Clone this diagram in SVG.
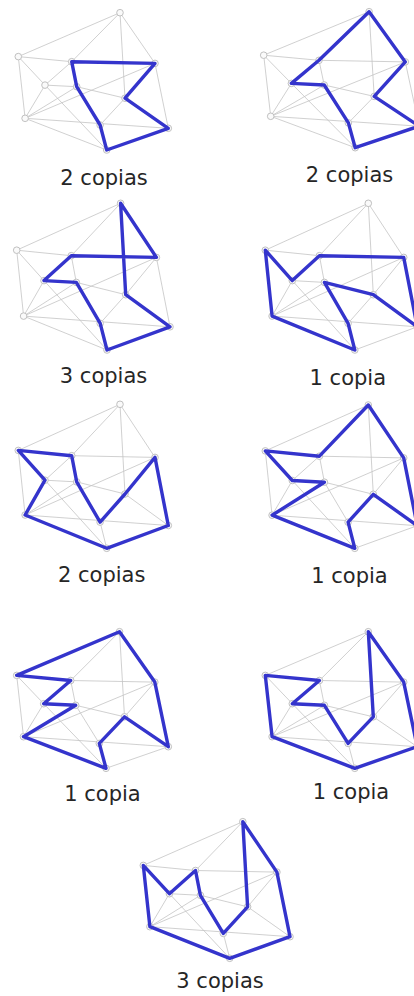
<svg xmlns="http://www.w3.org/2000/svg" width="414" height="996" viewBox="0 0 414 996">
<style>
.e{fill:none;stroke:#c4c4c4;stroke-width:0.8;stroke-linejoin:round}
.n{fill:#fafafa;stroke:#c0c0c0;stroke-width:1}
.c{fill:none;stroke:#3434cc;stroke-width:3.4;stroke-linejoin:round}
.t{font-family:"DejaVu Sans","Liberation Sans",sans-serif;font-size:21px;fill:#262626;text-anchor:middle}
</style>
<rect width="414" height="996" fill="#ffffff"/>

<g id="panel1">
<g class="connectors"><path class="e" d="M18.3 56.6L120 12.7 71.7 61.7 18.3 56.6 45 85.1 25.1 118.3 18.3 56.6M120 12.7L155 63.4 71.7 61.7 45 85.1 76.7 86.7 71.7 61.7M120 12.7L125 98.2 155 63.4 168.3 128.3 125 98.2 100.1 125 106.7 150 168.3 128.3 25.1 118.3 106.7 150 45 85.1M155 63.4L25.1 118.3 76.7 86.7 125 98.2M76.7 86.7L100.1 125"/></g>
<g class="nodes"><circle id="p1A" class="n" cx="120" cy="12.7" r="3.3"/><circle id="p1B" class="n" cx="18.3" cy="56.6" r="3.3"/><circle id="p1C" class="n" cx="71.7" cy="61.7" r="3.3"/><circle id="p1D" class="n" cx="155" cy="63.4" r="3.3"/><circle id="p1E" class="n" cx="45" cy="85.1" r="3.3"/><circle id="p1K" class="n" cx="76.7" cy="86.7" r="3.3"/><circle id="p1F" class="n" cx="125" cy="98.2" r="3.3"/><circle id="p1G" class="n" cx="25.1" cy="118.3" r="3.3"/><circle id="p1H" class="n" cx="100.1" cy="125" r="3.3"/><circle id="p1I" class="n" cx="168.3" cy="128.3" r="3.3"/><circle id="p1J" class="n" cx="106.7" cy="150" r="3.3"/></g>
<polygon class="c" points="71.7,61.7 155,63.4 125,98.2 168.3,128.3 106.7,150 100.1,125 76.7,86.7"/>
<text class="t" x="104" y="185">2 copias</text>
</g>

<g id="panel2">
<g class="connectors"><path class="e" d="M263.7 55.2L369.1 11.7 319 60.3 263.7 55.2 291.4 83.4 270.7 116.3 263.7 55.2M369.1 11.7L405.3 61.9 319 60.3 291.4 83.4 324.2 85 319 60.3M369.1 11.7L374.2 96.4 405.3 61.9 419.1 126.2 374.2 96.4 348.4 122.9 355.2 147.7 419.1 126.2 270.7 116.3 355.2 147.7 291.4 83.4M405.3 61.9L270.7 116.3 324.2 85 374.2 96.4M324.2 85L348.4 122.9"/></g>
<g class="nodes"><circle id="p2A" class="n" cx="369.1" cy="11.7" r="3.3"/><circle id="p2B" class="n" cx="263.7" cy="55.2" r="3.3"/><circle id="p2C" class="n" cx="319" cy="60.3" r="3.3"/><circle id="p2D" class="n" cx="405.3" cy="61.9" r="3.3"/><circle id="p2E" class="n" cx="291.4" cy="83.4" r="3.3"/><circle id="p2K" class="n" cx="324.2" cy="85" r="3.3"/><circle id="p2F" class="n" cx="374.2" cy="96.4" r="3.3"/><circle id="p2G" class="n" cx="270.7" cy="116.3" r="3.3"/><circle id="p2H" class="n" cx="348.4" cy="122.9" r="3.3"/><circle id="p2I" class="n" cx="419.1" cy="126.2" r="3.3"/><circle id="p2J" class="n" cx="355.2" cy="147.7" r="3.3"/></g>
<polygon class="c" points="369.1,11.7 319,60.3 291.4,83.4 324.2,85 348.4,122.9 355.2,147.7 419.1,126.2 374.2,96.4 405.3,61.9"/>
<text class="t" x="349.5" y="181.7">2 copias</text>
</g>

<g id="panel3">
<g class="connectors"><path class="e" d="M16.7 250.2L120.6 203.3 71.3 255.7 16.7 250.2 44 280.6 23.6 316.1 16.7 250.2M120.6 203.3L156.4 257.4 71.3 255.7 44 280.6 76.3 282.4 71.3 255.7M120.6 203.3L125.7 294.7 156.4 257.4 170 326.8 125.7 294.7 100.2 323.3 107 350 170 326.8 23.6 316.1 107 350 44 280.6M156.4 257.4L23.6 316.1 76.3 282.4 125.7 294.7M76.3 282.4L100.2 323.3"/></g>
<g class="nodes"><circle id="p3A" class="n" cx="120.6" cy="203.3" r="3.3"/><circle id="p3B" class="n" cx="16.7" cy="250.2" r="3.3"/><circle id="p3C" class="n" cx="71.3" cy="255.7" r="3.3"/><circle id="p3D" class="n" cx="156.4" cy="257.4" r="3.3"/><circle id="p3E" class="n" cx="44" cy="280.6" r="3.3"/><circle id="p3K" class="n" cx="76.3" cy="282.4" r="3.3"/><circle id="p3F" class="n" cx="125.7" cy="294.7" r="3.3"/><circle id="p3G" class="n" cx="23.6" cy="316.1" r="3.3"/><circle id="p3H" class="n" cx="100.2" cy="323.3" r="3.3"/><circle id="p3I" class="n" cx="170" cy="326.8" r="3.3"/><circle id="p3J" class="n" cx="107" cy="350" r="3.3"/></g>
<polygon class="c" points="120.6,203.3 156.4,257.4 71.3,255.7 44,280.6 76.3,282.4 100.2,323.3 107,350 170,326.8 125.7,294.7"/>
<text class="t" x="103.5" y="383.3">3 copias</text>
</g>

<g id="panel4">
<g class="connectors"><path class="e" d="M265.3 250.2L368.3 203.3 319.4 255.7 265.3 250.2 292.3 280.6 272.1 316.1 265.3 250.2M368.3 203.3L403.7 257.4 319.4 255.7 292.3 280.6 324.4 282.4 319.4 255.7M368.3 203.3L373.3 294.7 403.7 257.4 417.2 326.8 373.3 294.7 348.1 323.3 354.8 350 417.2 326.8 272.1 316.1 354.8 350 292.3 280.6M403.7 257.4L272.1 316.1 324.4 282.4 373.3 294.7M324.4 282.4L348.1 323.3"/></g>
<g class="nodes"><circle id="p4A" class="n" cx="368.3" cy="203.3" r="3.3"/><circle id="p4B" class="n" cx="265.3" cy="250.2" r="3.3"/><circle id="p4C" class="n" cx="319.4" cy="255.7" r="3.3"/><circle id="p4D" class="n" cx="403.7" cy="257.4" r="3.3"/><circle id="p4E" class="n" cx="292.3" cy="280.6" r="3.3"/><circle id="p4K" class="n" cx="324.4" cy="282.4" r="3.3"/><circle id="p4F" class="n" cx="373.3" cy="294.7" r="3.3"/><circle id="p4G" class="n" cx="272.1" cy="316.1" r="3.3"/><circle id="p4H" class="n" cx="348.1" cy="323.3" r="3.3"/><circle id="p4I" class="n" cx="417.2" cy="326.8" r="3.3"/><circle id="p4J" class="n" cx="354.8" cy="350" r="3.3"/></g>
<polygon class="c" points="265.3,250.2 292.3,280.6 319.4,255.7 403.7,257.4 417.2,326.8 373.3,294.7 324.4,282.4 348.1,323.3 354.8,350 272.1,316.1"/>
<text class="t" x="347.8" y="385">1 copia</text>
</g>

<g id="panel5">
<g class="connectors"><path class="e" d="M18.3 450.4L120 404.3 71.7 455.7 18.3 450.4 45 480.2 25.1 515 18.3 450.4M120 404.3L155 457.4 71.7 455.7 45 480.2 76.7 481.9 71.7 455.7M120 404.3L125 494 155 457.4 168.3 525.5 125 494 100.1 522.1 106.7 548.3 168.3 525.5 25.1 515 106.7 548.3 45 480.2M155 457.4L25.1 515 76.7 481.9 125 494M76.7 481.9L100.1 522.1"/></g>
<g class="nodes"><circle id="p5A" class="n" cx="120" cy="404.3" r="3.3"/><circle id="p5B" class="n" cx="18.3" cy="450.4" r="3.3"/><circle id="p5C" class="n" cx="71.7" cy="455.7" r="3.3"/><circle id="p5D" class="n" cx="155" cy="457.4" r="3.3"/><circle id="p5E" class="n" cx="45" cy="480.2" r="3.3"/><circle id="p5K" class="n" cx="76.7" cy="481.9" r="3.3"/><circle id="p5F" class="n" cx="125" cy="494" r="3.3"/><circle id="p5G" class="n" cx="25.1" cy="515" r="3.3"/><circle id="p5H" class="n" cx="100.1" cy="522.1" r="3.3"/><circle id="p5I" class="n" cx="168.3" cy="525.5" r="3.3"/><circle id="p5J" class="n" cx="106.7" cy="548.3" r="3.3"/></g>
<polygon class="c" points="18.3,450.4 71.7,455.7 76.7,481.9 100.1,522.1 125,494 155,457.4 168.3,525.5 106.7,548.3 25.1,515 45,480.2"/>
<text class="t" x="101.7" y="581.7">2 copias</text>
</g>

<g id="panel6">
<g class="connectors"><path class="e" d="M265.3 450.9L368.3 405 319.4 456.2 265.3 450.9 292.3 480.5 272.1 515.2 265.3 450.9M368.3 405L403.7 457.9 319.4 456.2 292.3 480.5 324.4 482.2 319.4 456.2M368.3 405L373.3 494.3 403.7 457.9 417.2 525.7 373.3 494.3 348.1 522.2 354.8 548.3 417.2 525.7 272.1 515.2 354.8 548.3 292.3 480.5M403.7 457.9L272.1 515.2 324.4 482.2 373.3 494.3M324.4 482.2L348.1 522.2"/></g>
<g class="nodes"><circle id="p6A" class="n" cx="368.3" cy="405" r="3.3"/><circle id="p6B" class="n" cx="265.3" cy="450.9" r="3.3"/><circle id="p6C" class="n" cx="319.4" cy="456.2" r="3.3"/><circle id="p6D" class="n" cx="403.7" cy="457.9" r="3.3"/><circle id="p6E" class="n" cx="292.3" cy="480.5" r="3.3"/><circle id="p6K" class="n" cx="324.4" cy="482.2" r="3.3"/><circle id="p6F" class="n" cx="373.3" cy="494.3" r="3.3"/><circle id="p6G" class="n" cx="272.1" cy="515.2" r="3.3"/><circle id="p6H" class="n" cx="348.1" cy="522.2" r="3.3"/><circle id="p6I" class="n" cx="417.2" cy="525.7" r="3.3"/><circle id="p6J" class="n" cx="354.8" cy="548.3" r="3.3"/></g>
<polygon class="c" points="368.3,405 319.4,456.2 265.3,450.9 292.3,480.5 324.4,482.2 272.1,515.2 354.8,548.3 348.1,522.2 373.3,494.3 417.2,525.7 403.7,457.9"/>
<text class="t" x="349.5" y="583.3">1 copia</text>
</g>

<g id="panel7">
<g class="connectors"><path class="e" d="M16.7 675.4L119.5 631.7 70.7 680.5 16.7 675.4 43.7 703.7 23.5 736.7 16.7 675.4M119.5 631.7L154.8 682.1 70.7 680.5 43.7 703.7 75.7 705.3 70.7 680.5M119.5 631.7L124.5 716.8 154.8 682.1 168.3 746.7 124.5 716.8 99.3 743.4 106 768.3 168.3 746.7 23.5 736.7 106 768.3 43.7 703.7M154.8 682.1L23.5 736.7 75.7 705.3 124.5 716.8M75.7 705.3L99.3 743.4"/></g>
<g class="nodes"><circle id="p7A" class="n" cx="119.5" cy="631.7" r="3.3"/><circle id="p7B" class="n" cx="16.7" cy="675.4" r="3.3"/><circle id="p7C" class="n" cx="70.7" cy="680.5" r="3.3"/><circle id="p7D" class="n" cx="154.8" cy="682.1" r="3.3"/><circle id="p7E" class="n" cx="43.7" cy="703.7" r="3.3"/><circle id="p7K" class="n" cx="75.7" cy="705.3" r="3.3"/><circle id="p7F" class="n" cx="124.5" cy="716.8" r="3.3"/><circle id="p7G" class="n" cx="23.5" cy="736.7" r="3.3"/><circle id="p7H" class="n" cx="99.3" cy="743.4" r="3.3"/><circle id="p7I" class="n" cx="168.3" cy="746.7" r="3.3"/><circle id="p7J" class="n" cx="106" cy="768.3" r="3.3"/></g>
<polygon class="c" points="119.5,631.7 16.7,675.4 70.7,680.5 43.7,703.7 75.7,705.3 23.5,736.7 106,768.3 99.3,743.4 124.5,716.8 168.3,746.7 154.8,682.1"/>
<text class="t" x="102.5" y="801">1 copia</text>
</g>

<g id="panel8">
<g class="connectors"><path class="e" d="M265.3 675.4L368.3 631.7 319.4 680.5 265.3 675.4 292.3 703.7 272.1 736.7 265.3 675.4M368.3 631.7L403.7 682.1 319.4 680.5 292.3 703.7 324.4 705.3 319.4 680.5M368.3 631.7L373.3 716.8 403.7 682.1 417.2 746.7 373.3 716.8 348.1 743.4 354.8 768.3 417.2 746.7 272.1 736.7 354.8 768.3 292.3 703.7M403.7 682.1L272.1 736.7 324.4 705.3 373.3 716.8M324.4 705.3L348.1 743.4"/></g>
<g class="nodes"><circle id="p8A" class="n" cx="368.3" cy="631.7" r="3.3"/><circle id="p8B" class="n" cx="265.3" cy="675.4" r="3.3"/><circle id="p8C" class="n" cx="319.4" cy="680.5" r="3.3"/><circle id="p8D" class="n" cx="403.7" cy="682.1" r="3.3"/><circle id="p8E" class="n" cx="292.3" cy="703.7" r="3.3"/><circle id="p8K" class="n" cx="324.4" cy="705.3" r="3.3"/><circle id="p8F" class="n" cx="373.3" cy="716.8" r="3.3"/><circle id="p8G" class="n" cx="272.1" cy="736.7" r="3.3"/><circle id="p8H" class="n" cx="348.1" cy="743.4" r="3.3"/><circle id="p8I" class="n" cx="417.2" cy="746.7" r="3.3"/><circle id="p8J" class="n" cx="354.8" cy="768.3" r="3.3"/></g>
<polygon class="c" points="368.3,631.7 373.3,716.8 348.1,743.4 324.4,705.3 292.3,703.7 319.4,680.5 265.3,675.4 272.1,736.7 354.8,768.3 417.2,746.7 403.7,682.1"/>
<text class="t" x="351" y="799.3">1 copia</text>
</g>

<g id="panel9">
<g class="connectors"><path class="e" d="M143.3 865.4L242.8 821.7 195.5 870.5 143.3 865.4 169.4 893.7 149.9 926.7 143.3 865.4M242.8 821.7L276.9 872.1 195.5 870.5 169.4 893.7 200.4 895.3 195.5 870.5M242.8 821.7L247.6 906.8 276.9 872.1 290 936.7 247.6 906.8 223.3 933.4 229.7 958.3 290 936.7 149.9 926.7 229.7 958.3 169.4 893.7M276.9 872.1L149.9 926.7 200.4 895.3 247.6 906.8M200.4 895.3L223.3 933.4"/></g>
<g class="nodes"><circle id="p9A" class="n" cx="242.8" cy="821.7" r="3.3"/><circle id="p9B" class="n" cx="143.3" cy="865.4" r="3.3"/><circle id="p9C" class="n" cx="195.5" cy="870.5" r="3.3"/><circle id="p9D" class="n" cx="276.9" cy="872.1" r="3.3"/><circle id="p9E" class="n" cx="169.4" cy="893.7" r="3.3"/><circle id="p9K" class="n" cx="200.4" cy="895.3" r="3.3"/><circle id="p9F" class="n" cx="247.6" cy="906.8" r="3.3"/><circle id="p9G" class="n" cx="149.9" cy="926.7" r="3.3"/><circle id="p9H" class="n" cx="223.3" cy="933.4" r="3.3"/><circle id="p9I" class="n" cx="290" cy="936.7" r="3.3"/><circle id="p9J" class="n" cx="229.7" cy="958.3" r="3.3"/></g>
<polygon class="c" points="143.3,865.4 169.4,893.7 195.5,870.5 200.4,895.3 223.3,933.4 247.6,906.8 242.8,821.7 276.9,872.1 290,936.7 229.7,958.3 149.9,926.7"/>
<text class="t" x="220" y="988.3">3 copias</text>
</g>
</svg>
